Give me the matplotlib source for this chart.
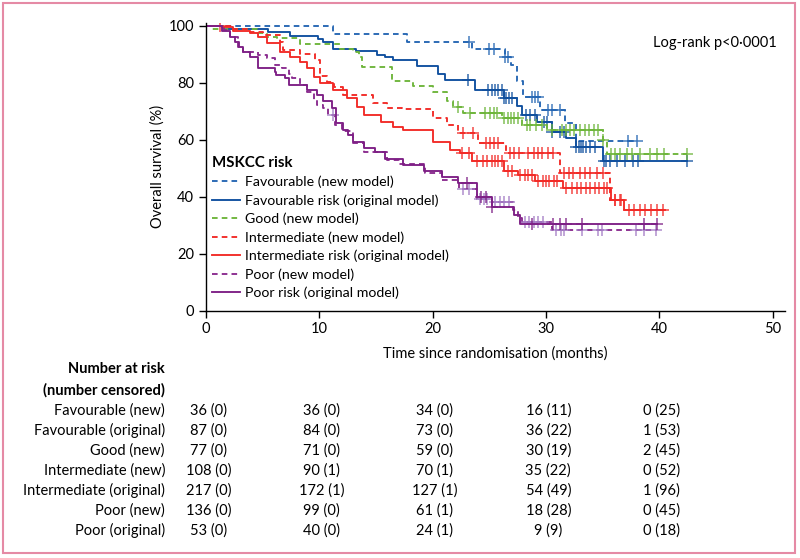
import numpy as np
import matplotlib
matplotlib.use("Agg")
import matplotlib.pyplot as plt
from matplotlib.patches import Rectangle
from matplotlib.transforms import blended_transform_factory

plt.rcParams['font.family'] = ['Lato', 'DejaVu Sans']

# --- survival curves (months, % surviving) ---
fav_new_t = [0, 11.2, 17.7, 23.5, 26.4, 26.9, 27.4, 28.0, 29.5, 31.7, 32.6]
fav_new_s = [100, 97.2, 94.4, 91.7, 88.9, 86.1, 80.6, 75.0, 70.5, 66.0, 59.4]
fav_new_c = [23.2, 25.0, 25.4, 26.4, 26.6, 28.8, 29.0, 29.3, 30.2, 30.5, 31.2, 37.2, 38.0]
fav_new_end = 38.0

fav_orig_t = [0, 1.5, 5.5, 7.4, 9.9, 10.3, 11.2, 13.2, 15.1, 15.8, 16.5, 18.6, 20.5, 21.1,
              23.7, 26.3, 27.4, 27.9, 29.2, 30.5, 31.8, 32.6, 35.0]
fav_orig_s = [100, 98.9, 97.7, 96.5, 95.4, 94.2, 92.0, 91.0, 89.9, 88.9, 87.8, 86.0, 83.0, 80.8,
              77.4, 74.6, 72.0, 68.6, 66.2, 62.8, 60.6, 57.5, 52.6]
fav_orig_c = [23.1, 24.9, 25.2, 25.5, 25.8, 26.1, 26.3, 26.5, 26.7, 27.0, 28.2, 28.6, 29.0,
              29.8, 30.1, 30.5, 31.2, 31.6, 32.6, 32.9, 33.1, 33.3, 33.5, 33.9, 34.3, 35.1,
              35.3, 35.6, 36.3, 37.0, 37.7, 38.1, 42.4]
fav_orig_end = 42.4

good_new_t = [0, 0.5, 4.5, 5.4, 6.3, 8.3, 11.8, 13.0, 13.5, 13.8, 16.4, 18.3, 20.0, 21.3,
              21.8, 22.7, 26.1, 27.9, 30.1, 35.0, 35.4]
good_new_s = [100, 98.7, 97.4, 96.1, 95.6, 93.6, 92.0, 90.9, 89.0, 85.6, 80.6, 79.0, 76.8, 73.7,
              71.6, 69.5, 67.6, 65.2, 63.4, 59.9, 55.0]
good_new_c = [22.2, 23.3, 24.6, 25.1, 25.4, 25.7, 26.3, 26.6, 26.9, 27.2, 27.5, 28.3, 28.6,
              29.1, 29.6, 30.5, 31.4, 31.8, 32.1, 32.5, 33.0, 33.4, 33.8, 34.2, 34.6, 35.0,
              35.7, 36.1, 36.5, 37.1, 37.6, 38.3, 39.2, 39.8, 40.4, 42.4]
good_new_end = 42.4

int_new_t = [0, 2.4, 3.9, 5.0, 6.5, 6.8, 8.3, 9.6, 10.1, 10.7, 11.3, 12.1, 14.7, 16.0, 17.3,
             20.0, 21.3, 22.2, 24.0, 26.5, 31.2, 35.6]
int_new_s = [100, 99.0, 97.8, 96.6, 94.2, 91.6, 90.0, 87.8, 82.5, 80.2, 78.5, 75.7, 72.8, 71.0,
             70.7, 67.5, 65.2, 62.3, 58.8, 55.3, 48.3, 39.0]
int_new_c = [22.7, 23.6, 24.7, 25.1, 25.4, 25.8, 26.8, 27.2, 27.6, 28.4, 28.9, 29.3, 29.6,
             30.2, 30.6, 31.6, 32.0, 32.4, 33.0, 33.4, 33.9, 34.5, 35.0, 36.1, 36.6]
int_new_end = 36.9

int_orig_t = [0, 1.4, 2.4, 3.9, 4.6, 5.4, 6.5, 7.4, 8.3, 8.9, 9.5, 10.1, 11.2, 12.4, 13.3,
              13.9, 15.4, 16.5, 17.4, 20.0, 21.5, 22.4, 23.5, 26.3, 27.5, 29.0, 31.5, 35.7, 36.9]
int_orig_s = [100, 99.5, 98.1, 97.3, 96.1, 93.8, 90.9, 89.1, 87.4, 85.0, 82.1, 79.8, 77.4, 74.5,
              71.6, 68.7, 66.3, 64.6, 63.4, 59.3, 56.4, 55.3, 52.5, 49.0, 47.5, 45.5, 43.0,
              39.0, 35.3]
int_orig_c = [1.2, 22.6, 23.2, 23.9, 24.4, 24.8, 25.2, 25.5, 25.8, 26.1, 26.6, 27.0, 27.7,
              28.1, 28.4, 28.8, 29.3, 29.7, 30.0, 30.3, 30.7, 31.0, 31.8, 32.3, 32.7, 33.1,
              33.5, 33.9, 34.3, 34.7, 35.1, 35.4, 36.1, 36.5, 37.3, 37.8, 38.3, 38.7, 39.3,
              39.8, 40.3]
int_orig_end = 40.5

poor_new_t = [0, 1.6, 2.1, 2.8, 3.3, 4.6, 5.4, 6.1, 6.7, 7.3, 7.6, 8.3, 8.9, 9.5, 9.8, 10.3,
              10.8, 11.4, 12.0, 13.0, 13.9, 16.0, 17.0, 19.3, 20.8, 22.3, 23.9, 25.2, 27.1,
              27.5, 27.9, 30.5]
poor_new_s = [100, 98.5, 96.2, 92.6, 90.9, 89.7, 88.6, 86.2, 85.0, 83.0, 81.5, 79.2, 76.8,
              73.9, 72.2, 71.0, 68.7, 65.2, 63.0, 59.0, 55.8, 52.9, 51.5, 48.2, 46.0, 42.6,
              39.1, 38.2, 35.3, 32.5, 31.2, 28.2]
poor_new_c = [11.2, 22.7, 23.2, 24.2, 24.5, 24.8, 25.5, 25.9, 26.3, 26.7, 28.1, 28.5, 28.9,
              29.3, 29.7, 30.9, 31.3, 31.6, 33.2, 34.6, 34.9, 37.9, 38.6, 39.7]
poor_new_end = 39.8

poor_orig_t = [0, 1.4, 2.1, 2.6, 2.9, 3.3, 3.9, 4.6, 6.1, 6.2, 7.0, 7.3, 8.9, 9.8, 10.3, 11.1,
               11.5, 12.1, 12.5, 13.0, 13.9, 14.9, 15.8, 17.4, 19.2, 20.8, 22.2, 23.9, 25.2,
               27.2, 27.7]
poor_orig_s = [100, 98.1, 96.2, 94.4, 92.6, 90.7, 88.9, 85.0, 83.9, 82.7, 81.5, 79.2, 77.4,
               75.7, 73.6, 71.0, 65.7, 63.4, 61.7, 59.3, 57.0, 55.8, 53.2, 51.1, 49.1, 47.0,
               44.7, 40.0, 36.5, 33.5, 30.5]
poor_orig_c = [23.0, 24.3, 24.7, 25.2, 28.8, 30.6, 31.2, 31.8, 33.2, 38.6, 39.8]
poor_orig_end = 39.8

# --- number at risk table ---
risk_times = [0, 10, 20, 30, 40]
risk_labels = ["Favourable (new)", "Favourable (original)", "Good (new)", "Intermediate (new)",
               "Intermediate (original)", "Poor (new)", "Poor (original)"]
risk_values = [
    ["36 (0)", "36 (0)", "34 (0)", "16 (11)", "0 (25)"],
    ["87 (0)", "84 (0)", "73 (0)", "36 (22)", "1 (53)"],
    ["77 (0)", "71 (0)", "59 (0)", "30 (19)", "2 (45)"],
    ["108 (0)", "90 (1)", "70 (1)", "35 (22)", "0 (52)"],
    ["217 (0)", "172 (1)", "127 (1)", "54 (49)", "1 (96)"],
    ["136 (0)", "99 (0)", "61 (1)", "18 (28)", "0 (45)"],
    ["53 (0)", "40 (0)", "24 (1)", "9 (9)", "0 (18)"],
]

curves = [
    ("Favourable (new model)", fav_new_t, fav_new_s, fav_new_c, fav_new_end, '#2566b3', '--', '#2566b3'),
    ("Favourable risk (original model)", fav_orig_t, fav_orig_s, fav_orig_c, fav_orig_end, '#0f4f9e', '-', '#0f4f9e'),
    ("Good (new model)", good_new_t, good_new_s, good_new_c, good_new_end, '#6db53a', '--', '#6db53a'),
    ("Intermediate (new model)", int_new_t, int_new_s, int_new_c, int_new_end, '#f22a26', '--', '#f22a26'),
    ("Intermediate risk (original model)", int_orig_t, int_orig_s, int_orig_c, int_orig_end, '#f22a26', '-', '#f22a26'),
    ("Poor (new model)", poor_new_t, poor_new_s, poor_new_c, poor_new_end, '#8a2b8f', '--', '#a37ac4'),
    ("Poor risk (original model)", poor_orig_t, poor_orig_s, poor_orig_c, poor_orig_end, '#7d1f85', '-', '#7d1f85'),
]

fig = plt.figure(figsize=(8, 5.58), dpi=100)
ax = fig.add_axes([0.2575, 0.4432, 0.724, 0.5158])

handles = []
for label, t, s, c, end, col, ls, ccol in curves:
    tt = list(t) + [end]
    ss = list(s) + [s[-1]]
    ln, = ax.step(tt, ss, where='post', color=col, linestyle=ls, lw=1.35,
                  dashes=(3, 2.2) if ls == '--' else (None, None), label=label)
    idx = np.searchsorted(t, c, side='right') - 1
    ax.plot(c, np.array(s)[idx], linestyle='none', marker='+', ms=8, mew=1.1,
            color=ccol, alpha=0.85)
    handles.append(ln)

ax.set_xlim(0, 51.1)
ax.set_ylim(0, 101)
ax.set_xticks([0, 10, 20, 30, 40, 50])
ax.set_yticks([0, 20, 40, 60, 80, 100])
for side in ['top', 'right']:
    ax.spines[side].set_visible(False)
for side in ['left', 'bottom']:
    ax.spines[side].set_linewidth(1.0)
ax.tick_params(direction='out', length=5, width=1.0, labelsize=10.5)
ax.set_xlabel("Time since randomisation (months)", fontsize=10.5, labelpad=7)
ax.set_ylabel("Overall survival (%)", fontsize=10.5, labelpad=3)

ax.text(0.985, 0.955, "Log-rank p<0\u00b70001", transform=ax.transAxes,
        ha='right', va='top', fontsize=10.5)

leg = ax.legend(handles=handles, loc='upper left', bbox_to_anchor=(0.005, 0.548),
                frameon=False, fontsize=10.2, title="MSKCC risk",
                title_fontproperties={'weight': 'bold', 'size': 10.8},
                alignment='left', handlelength=2.0, handletextpad=0.35,
                labelspacing=0.42, borderpad=0.2, borderaxespad=0)

# number at risk table
def fy(py):
    return 1 - py / 558.0

fig.text(165 / 800, fy(369), "Number at risk", ha='right', va='center',
         fontsize=10.5, fontweight='bold')
fig.text(165 / 800, fy(390), "(number censored)", ha='right', va='center',
         fontsize=10.5, fontweight='bold')
trans = blended_transform_factory(ax.transData, fig.transFigure)
for i, (lab, vals) in enumerate(zip(risk_labels, risk_values)):
    y = fy(410.7 + 20 * i)
    fig.text(165 / 800, y, lab, ha='right', va='center', fontsize=10.5)
    for tm, v in zip(risk_times, vals):
        ax.text(tm + 0.2, y, v, transform=trans, ha='center', va='center',
                fontsize=10.5, clip_on=False)

fig.patches.append(Rectangle((3 / 800, 5 / 558), 792 / 800, 550 / 558,
                             transform=fig.transFigure, fill=False,
                             ec='#e58aa5', lw=1.5))

fig.savefig("out.png", dpi=100)
